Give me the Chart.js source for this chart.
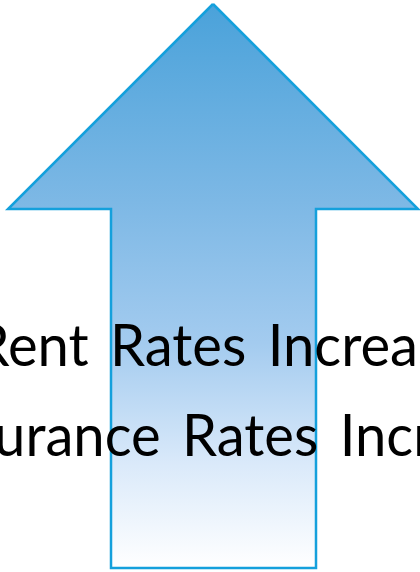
<!DOCTYPE html>
<html>
<head>
<meta charset="utf-8">
<script src="https://cdn.jsdelivr.net/npm/chart.js@4/dist/chart.umd.min.js"></script>
<style>
  html, body { margin: 0; padding: 0; background: #fff; overflow: hidden; }
  #wrap { width: 420px; height: 572px; }
</style>
</head>
<body>
<div id="wrap"><canvas id="grafico" width="420" height="572"></canvas></div>
<script>
// arrow outline (closed), in chart units
var arrowX = [213, 418, 316, 316, 111, 111, 8, 213];
var arrowY = [4, 209, 209, 568, 568, 209, 209, 4];

// text lines; the word "Rates" is the anchor of each line
var linhas = ['Rent Rates Increase', 'Insurance Rates Increase'];
var ancoraX = [110, 182];
var baseY = [366, 456];

var pontos = arrowX.map(function(x, i){ return { x: x, y: arrowY[i] }; });

var textoPlugin = {
	id: 'texto',
	afterDatasetsDraw: function(chart){
		var ctx = chart.ctx;
		var sx = chart.scales.x, sy = chart.scales.y;
		ctx.save();
		ctx.fillStyle = '#000';
		ctx.textBaseline = 'alphabetic';
		ctx.textAlign = 'left';
		// cap height ~42px; glyphs squeezed a touch, spaces a bit wider (Calibri-like)
		ctx.font = '58px Lato';
		var extra = 7;
		var escala = 301 / ctx.measureText('Rates Increa').width;
		var larg = function(p){ return ctx.measureText(p).width * escala; };
		var espaco = larg(' ') + extra;
		linhas.forEach(function(t, i){
			var palavras = t.split(' ');
			var k = palavras.indexOf('Rates');
			var x = sx.getPixelForValue(ancoraX[i]);
			for (var j = k - 1; j >= 0; j--) x -= larg(palavras[j]) + espaco;
			var y = sy.getPixelForValue(baseY[i]);
			palavras.forEach(function(p){
				ctx.save();
				ctx.translate(x, y);
				ctx.scale(escala, 1);
				ctx.fillText(p, 0, 0);
				ctx.restore();
				x += larg(p) + espaco;
			});
		});
		ctx.restore();
	}
};

function gradiente(context){
	var chart = context.chart;
	var area = chart.chartArea;
	if (!area) return '#7db8e5';
	var sy = chart.scales.y;
	var g = chart.ctx.createLinearGradient(0, sy.getPixelForValue(4), 0, sy.getPixelForValue(568));
	g.addColorStop(0, '#4aa2da');
	g.addColorStop(0.35, '#7db8e5');
	g.addColorStop(0.6, '#a3cbef');
	g.addColorStop(0.82, '#dbeafa');
	g.addColorStop(1, '#ffffff');
	return g;
}

new Chart(document.getElementById('grafico').getContext('2d'), {
	type: 'scatter',
	data: {
		datasets: [{
			data: pontos,
			showLine: true,
			fill: 'shape',
			tension: 0,
			borderColor: '#14a0dc',
			borderWidth: 2.5,
			borderJoinStyle: 'miter',
			backgroundColor: gradiente,
			pointRadius: 0,
			pointHoverRadius: 0
		}]
	},
	options: {
		responsive: false,
		animation: false,
		events: [],
		layout: { padding: 0 },
		plugins: { legend: { display: false }, tooltip: { enabled: false } },
		scales: {
			x: { type: 'linear', min: 0, max: 420, display: false },
			y: { type: 'linear', min: 0, max: 572, reverse: true, display: false }
		}
	},
	plugins: [textoPlugin]
});
</script>
</body>
</html>
